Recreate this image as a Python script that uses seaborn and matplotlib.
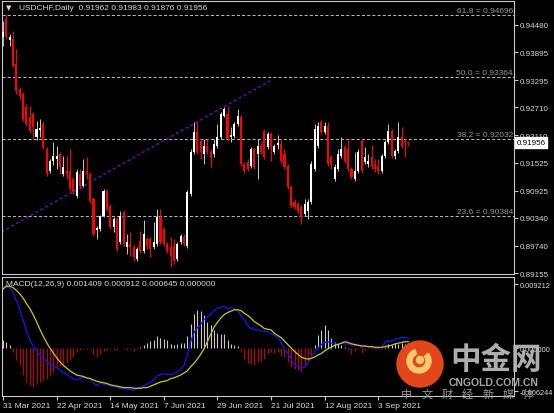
import numpy as np
import pandas as pd
import matplotlib
matplotlib.use('Agg')
import matplotlib.pyplot as plt
from matplotlib.patches import Circle, Wedge
import seaborn as sns

# ---- data ----
opens = [0.94222, 0.94609, 0.94158, 0.94179, 0.93642, 0.93106, 0.92998, 0.92719, 0.92505, 0.92569,
         0.92075, 0.92225, 0.92354, 0.91817, 0.91345, 0.91560, 0.91603, 0.91710, 0.91281, 0.91345,
         0.91345, 0.91173, 0.90808, 0.91281, 0.91023, 0.91345, 0.91281, 0.90744, 0.90078, 0.90100,
         0.90379, 0.90916, 0.90594, 0.90143, 0.90315, 0.89821, 0.90465, 0.89713, 0.89778, 0.89713,
         0.89456, 0.89842, 0.89628, 0.89885, 0.89885, 0.89713, 0.89778, 0.90358, 0.90100, 0.89778,
         0.89713, 0.89735, 0.89456, 0.89821, 0.89928, 0.89735, 0.90851, 0.91753, 0.92182, 0.91989,
         0.91710, 0.91882, 0.91753, 0.91710, 0.91882, 0.92075, 0.92526, 0.92569, 0.92075, 0.92097,
         0.92354, 0.92505, 0.91495, 0.91538, 0.91453, 0.91817, 0.91710, 0.91882, 0.92204, 0.91860,
         0.92140, 0.91753, 0.91903, 0.91925, 0.91710, 0.91453, 0.91002, 0.90680, 0.90637, 0.90572,
         0.90422, 0.90486, 0.90680, 0.91388, 0.91882, 0.92397, 0.92182, 0.92311, 0.91646, 0.91173,
         0.91388, 0.91667, 0.91860, 0.91817, 0.91388, 0.91173, 0.91345, 0.91989, 0.91538, 0.91495,
         0.91646, 0.91495, 0.91453, 0.91345, 0.91667, 0.91968, 0.92204, 0.91667, 0.91775, 0.92075,
         0.91989, 0.91962]
highs = [0.94566, 0.94716, 0.94287, 0.94351, 0.93964, 0.93149, 0.93041, 0.92784, 0.92741, 0.92612,
         0.92419, 0.92462, 0.92419, 0.91860, 0.91603, 0.91968, 0.91882, 0.91753, 0.91667, 0.91667,
         0.91817, 0.91216, 0.91388, 0.91388, 0.91603, 0.91646, 0.91324, 0.90787, 0.90164, 0.90400,
         0.90959, 0.90959, 0.90637, 0.90358, 0.90358, 0.90486, 0.90508, 0.89993, 0.90035, 0.89756,
         0.89713, 0.90057, 0.90293, 0.89928, 0.89928, 0.90250, 0.90529, 0.90529, 0.90143, 0.89821,
         0.89928, 0.89885, 0.89821, 0.89993, 0.89993, 0.90937, 0.91817, 0.92397, 0.92397, 0.92032,
         0.92032, 0.92032, 0.91817, 0.92032, 0.92354, 0.92612, 0.92719, 0.92741, 0.92290, 0.92397,
         0.92676, 0.92547, 0.91538, 0.91603, 0.91860, 0.91860, 0.92032, 0.91968, 0.92247, 0.92182,
         0.92182, 0.91925, 0.92118, 0.92032, 0.91817, 0.91495, 0.91045, 0.90744, 0.90680, 0.90615,
         0.90744, 0.90744, 0.91560, 0.92354, 0.92397, 0.92440, 0.92397, 0.92397, 0.91689, 0.91495,
         0.91817, 0.92075, 0.91903, 0.92032, 0.91431, 0.91753, 0.91817, 0.92032, 0.91860, 0.91710,
         0.91903, 0.91603, 0.91603, 0.91710, 0.92011, 0.92354, 0.92247, 0.91817, 0.92397, 0.92290,
         0.92032, 0.91983]
lows = [0.94029, 0.94179, 0.94029, 0.93578, 0.92998, 0.92891, 0.92419, 0.92311, 0.92161, 0.92032,
        0.92011, 0.92075, 0.91817, 0.91238, 0.91302, 0.91474, 0.91388, 0.91281, 0.91238, 0.91173,
        0.90916, 0.90851, 0.90765, 0.90959, 0.91002, 0.91173, 0.90658, 0.89950, 0.89885, 0.90057,
        0.90358, 0.90486, 0.90100, 0.90035, 0.89628, 0.89778, 0.89735, 0.89563, 0.89520, 0.89413,
        0.89413, 0.89585, 0.89585, 0.89670, 0.89499, 0.89670, 0.89735, 0.89778, 0.89735, 0.89585,
        0.89284, 0.89348, 0.89413, 0.89778, 0.89735, 0.89692, 0.90808, 0.91710, 0.91710, 0.91603,
        0.91495, 0.91710, 0.91431, 0.91646, 0.91839, 0.92032, 0.92505, 0.91989, 0.91968, 0.92054,
        0.92311, 0.91453, 0.91302, 0.91345, 0.91410, 0.91388, 0.91173, 0.91710, 0.91603, 0.91817,
        0.91560, 0.91710, 0.91817, 0.91517, 0.91388, 0.90959, 0.90551, 0.90529, 0.90443, 0.90207,
        0.90379, 0.90315, 0.90637, 0.91345, 0.91839, 0.92140, 0.92140, 0.91453, 0.91388, 0.91130,
        0.91345, 0.91624, 0.91517, 0.91345, 0.91173, 0.91130, 0.91302, 0.91302, 0.91495, 0.91431,
        0.91388, 0.91324, 0.91281, 0.91302, 0.91624, 0.91925, 0.91624, 0.91603, 0.91732, 0.91839,
        0.91646, 0.91876]
closes = [0.94329, 0.94222, 0.94222, 0.93600, 0.93063, 0.92955, 0.92462, 0.92354, 0.92204, 0.92290,
          0.92247, 0.92268, 0.91860, 0.91281, 0.91560, 0.91667, 0.91667, 0.91431, 0.91431, 0.91281,
          0.90959, 0.90894, 0.91324, 0.91023, 0.91345, 0.91281, 0.90701, 0.89993, 0.90122, 0.90379,
          0.90916, 0.90529, 0.90143, 0.90315, 0.89670, 0.90379, 0.89778, 0.89821, 0.89713, 0.89499,
          0.89670, 0.89628, 0.89993, 0.89735, 0.89670, 0.89821, 0.90358, 0.89821, 0.89778, 0.89628,
          0.89520, 0.89413, 0.89778, 0.89950, 0.89778, 0.90894, 0.91753, 0.92182, 0.91753, 0.91753,
          0.91882, 0.91753, 0.91646, 0.91925, 0.92075, 0.92569, 0.92676, 0.92032, 0.92118, 0.92354,
          0.92526, 0.91495, 0.91345, 0.91388, 0.91817, 0.91431, 0.91882, 0.91753, 0.91646, 0.92140,
          0.91860, 0.91882, 0.91946, 0.91560, 0.91431, 0.91002, 0.90594, 0.90572, 0.90486, 0.90358,
          0.90637, 0.90680, 0.91495, 0.92247, 0.92311, 0.92182, 0.92311, 0.91495, 0.91495, 0.91431,
          0.91710, 0.91817, 0.91560, 0.91388, 0.91216, 0.91345, 0.91753, 0.91345, 0.91646, 0.91560,
          0.91453, 0.91388, 0.91345, 0.91667, 0.91968, 0.92204, 0.91667, 0.91775, 0.92075, 0.91882,
          0.91968, 0.91956]

macd_hist = [0.00115, 0.00086, 0.0004, -0.00058, -0.0017, -0.0025, -0.0039, -0.0049, -0.0053, -0.0056,
             -0.0052, -0.0049, -0.0046, -0.0044, -0.0039, -0.0035, -0.0030, -0.0026, -0.0025, -0.0022,
             -0.0017, -0.0013, -0.0006, -0.0003, -0.0002, -0.0001, -0.0001, -0.0008, -0.0013, -0.0008,
             -0.0004, -0.0003, -0.0002, -0.0003, -0.0003, -0.00005, -0.0002, -0.0003, -0.0002, -0.0004,
             -0.0002, 0.0001, 0.0004, 0.0007, 0.0010, 0.0012, 0.0017, 0.0015, 0.0013, 0.0011,
             0.0006, 0.0004, 0.0006, 0.0007, 0.0007, 0.0018, 0.0035, 0.0049, 0.0055, 0.0054,
             0.0048, 0.0038, 0.0033, 0.0026, 0.0021, 0.0020, 0.0020, 0.0012, 0.0006, 0.0004,
             0.0003, -0.0006, -0.0016, -0.0022, -0.0023, -0.0025, -0.0020, -0.0018, -0.0016, -0.0009,
             -0.0006, -0.0007, -0.0006, -0.0011, -0.0013, -0.0020, -0.0027, -0.0030, -0.0031, -0.0035,
             -0.0027, -0.0020, -0.0011, 0.0004, 0.0019, 0.0026, 0.0033, 0.0026, 0.0015, 0.0009,
             0.0006, 0.0004, 0.0002, -0.0003, -0.0008, -0.0004, -0.0002, -0.0007, -0.0003, -0.0002,
             -0.0001, -0.0001, -0.0002, -0.0001, 0.0002, 0.0006, 0.0004, 0.0007, 0.0006, 0.0007,
             0.0006, 0.00065]
macd_main = [0.0088, 0.0088, 0.0087, 0.0080, 0.0068, 0.0056, 0.0040, 0.0025, 0.0011, 0.0003,
             -0.0004, -0.0010, -0.0015, -0.0019, -0.0023, -0.0026, -0.0028, -0.0032, -0.0035, -0.0038,
             -0.0042, -0.0045, -0.0045, -0.0044, -0.0042, -0.0043, -0.0044, -0.0050, -0.0054, -0.0051,
             -0.0052, -0.0053, -0.0054, -0.0055, -0.0056, -0.0058, -0.0058, -0.0059, -0.0060, -0.0061,
             -0.0059, -0.0056, -0.0054, -0.0052, -0.0049, -0.0046, -0.0040, -0.0038, -0.0037, -0.0038,
             -0.0038, -0.0037, -0.0034, -0.0031, -0.0025, -0.0010, 0.0009, 0.0022, 0.0029, 0.0034,
             0.0041, 0.0045, 0.0049, 0.0054, 0.0057, 0.0059, 0.0060, 0.0056, 0.0058, 0.0057,
             0.0054, 0.0047, 0.0041, 0.0033, 0.0028, 0.0027, 0.0026, 0.0025, 0.0024, 0.0023,
             0.0021, 0.0018, 0.0015, 0.0008, -0.0002, -0.0008, -0.0016, -0.0024, -0.0027, -0.0029,
             -0.0027, -0.0022, -0.0014, -0.0006, 0.0000, 0.0005, 0.0008, 0.0009, 0.0007, 0.0006,
             0.0006, 0.0007, 0.0006, 0.0006, 0.0004, 0.0004, 0.0004, 0.0001, 0.0002, 0.0002,
             0.0001, 0.0000, -0.0001, 0.0001, 0.0008, 0.0011, 0.0009, 0.0013, 0.0014, 0.0015,
             0.0015, 0.00141]
macd_signal = [0.0085, 0.0089, 0.0089, 0.0087, 0.0083, 0.0078, 0.0072, 0.0064, 0.0057, 0.0048,
               0.0038, 0.0027, 0.0017, 0.0008, 0.0000, -0.0007, -0.0014, -0.0020, -0.0025, -0.0029,
               -0.0033, -0.0036, -0.0039, -0.0040, -0.0041, -0.0043, -0.0044, -0.0046, -0.0048, -0.0049,
               -0.0050, -0.0051, -0.0053, -0.0054, -0.0055, -0.0056, -0.0057, -0.0057, -0.0057, -0.0058,
               -0.0058, -0.0058, -0.0057, -0.0057, -0.0055, -0.0053, -0.0051, -0.0049, -0.0048, -0.0047,
               -0.0044, -0.0043, -0.0041, -0.0039, -0.0036, -0.0033, -0.0027, -0.0022, -0.0016, -0.0009,
               -0.0001, 0.0009, 0.0020, 0.0030, 0.0037, 0.0043, 0.0048, 0.0051, 0.0053, 0.0055,
               0.0055, 0.0054, 0.0050, 0.0047, 0.0043, 0.0038, 0.0035, 0.0032, 0.0028, 0.0027,
               0.0026, 0.0021, 0.0018, 0.0015, 0.0010, 0.0005, 0.0000, -0.0005, -0.0009, -0.0013,
               -0.0015, -0.0016, -0.0015, -0.0013, -0.0010, -0.0008, -0.0004, -0.0001, 0.0001, 0.0004,
               0.0005, 0.0007, 0.0009, 0.0008, 0.0006, 0.0005, 0.0004, 0.0003, 0.0003, 0.0002,
               0.0002, 0.0001, 0.0001, 0.0001, 0.0002, 0.0003, 0.0004, 0.0006, 0.0007, 0.0008,
               0.0009, 0.00091]

date_bars = [0, 16, 32, 48, 64, 80, 96, 112]
date_labels = ['31 Mar 2021', '22 Apr 2021', '14 May 2021', '7 Jun 2021',
               '29 Jun 2021', '21 Jul 2021', '12 Aug 2021', '3 Sep 2021']
price_ticks = [0.94480, 0.93895, 0.93295, 0.92710, 0.92110,
               0.91525, 0.90925, 0.90340, 0.89740, 0.89155]
fib_levels = ['61.8', '50.0', '38.2', '23.6']
fib_prices = [0.94696, 0.93364, 0.92032, 0.90384]
trend_bars = [-0.4, 79.7]
trend_prices = [0.9004, 0.9328]
last_price = 0.91956
macd_ticks = [0.009212, 0.0, -0.006244]
macd_tick_labels = ['0.009212', '0.000000', '-0.006244']

# ---- style ----
sns.set_theme(style='dark', rc={
    'figure.facecolor': 'black', 'axes.facecolor': 'black',
    'axes.edgecolor': '#c8c8c8', 'axes.linewidth': 0.8,
    'xtick.color': '#c8c8c8', 'ytick.color': '#c8c8c8',
    'text.color': '#d0d0d0', 'axes.grid': False})
plt.rcParams['font.family'] = ['Liberation Sans', 'DejaVu Sans']

W, H = 554, 414
fig = plt.figure(figsize=(W / 100, H / 100), dpi=100, facecolor='black')
ax = fig.add_axes([2 / W, 1 - 275 / H, 512 / W, 273 / H])
ax2 = fig.add_axes([2 / W, 1 - 397 / H, 512 / W, 119 / H])

df = pd.DataFrame({'open': opens, 'high': highs, 'low': lows, 'close': closes})
df['bar'] = np.arange(len(df))
up = df['close'] >= df['open']

# candles
ax.vlines(df.loc[up, 'bar'], df.loc[up, 'low'], df.loc[up, 'high'], color='#bdbdbd', lw=0.75, zorder=3)
ax.vlines(df.loc[~up, 'bar'], df.loc[~up, 'low'], df.loc[~up, 'high'], color='#ff0000', lw=0.75, zorder=3)
body = np.maximum((df['close'] - df['open']).abs(), 0.00016)
bottom = np.minimum(df['open'], df['close'])
ax.bar(df.loc[up, 'bar'], body[up], bottom=bottom[up], width=0.62, color='white', lw=0, zorder=4)
ax.bar(df.loc[~up, 'bar'], body[~up], bottom=bottom[~up], width=0.62, color='#ff0000', lw=0, zorder=4)

# fibonacci levels
for lvl, p in zip(fib_levels, fib_prices):
    ax.axhline(p, color='#b4b4b4', ls=(0, (3, 2)), lw=0.75, zorder=2)
    ax.text(152.2, p + 0.0002, f'{lvl} = {p:.5f}', ha='right', va='bottom',
            fontsize=6, color='#9a9a9a', zorder=5)

# trend line
sns.lineplot(x=trend_bars, y=trend_prices, ax=ax, color='#7a00c8', lw=1.0,
             linestyle=(0, (2, 2)), zorder=2)

ax.set_xlim(-0.3, 152.5)
ax.set_ylim(0.89134, 0.94995)
ax.set_xticks([])
ax.yaxis.tick_right()
ax.set_yticks(price_ticks)
ax.set_yticklabels([f'{p:.5f}' for p in price_ticks], fontsize=5.8, color='#d8d8d8')
ax.tick_params(axis='y', right=True, length=3, width=0.8, pad=1.5, direction='out')
ax.set_xlabel('')
ax.set_ylabel('')

ax.text(1.005, last_price, f'{last_price:.5f}', transform=ax.get_yaxis_transform(),
        ha='left', va='center', fontsize=5.8, color='black', clip_on=False,
        bbox=dict(boxstyle='square,pad=0.2', fc='white', ec='white'))

# MACD
bars = df['bar'].to_numpy()
hist = np.array(macd_hist)
ax2.vlines(bars, 0, hist, colors=np.where(hist >= 0, '#c8c8c8', '#c00000'), lw=0.8, zorder=2)
sns.lineplot(x=bars, y=macd_main, ax=ax2, color='#1414ff', lw=0.9, zorder=3)
sns.lineplot(x=bars, y=macd_signal, ax=ax2, color='#d2c800', lw=0.9, zorder=3)
ax2.set_xlim(-0.3, 152.5)
ax2.set_ylim(-0.006912, 0.010224)
ax2.yaxis.tick_right()
ax2.set_yticks(macd_ticks)
ax2.set_yticklabels(macd_tick_labels, fontsize=5.3, color='#d8d8d8')
ax2.tick_params(axis='y', right=True, length=3, width=0.8, pad=1, direction='out')
ax2.set_xticks(date_bars)
ax2.set_xticklabels(date_labels, ha='left', fontsize=6, color='#d8d8d8')
ax2.tick_params(axis='x', bottom=True, length=3, width=0.8, pad=1, direction='out')
ax2.set_xlabel('')
ax2.set_ylabel('')

# header texts
fig.text(6 / W, 1 - 8 / H, '▼', fontsize=5, family='DejaVu Sans', va='center', color='#d8d8d8')
fig.text(19 / W, 1 - 8 / H, 'USDCHF,Daily  0.91962 0.91983 0.91876 0.91956',
         fontsize=6, va='center', color='#d8d8d8')
fig.text(6 / W, 1 - 285 / H, 'MACD(12,26,9) 0.001409 0.000912 0.000645 0.000000',
         fontsize=6, va='center', color='#d8d8d8')

# watermark
ov = fig.add_axes([0, 0, 1, 1], facecolor='none')
ov.set_xlim(0, W)
ov.set_ylim(H, 0)
ov.axis('off')
ov.add_patch(Circle((420, 365), 23, color='#e4461c', zorder=5))
ov.add_patch(Wedge((419, 362), 12, -40, 250, width=5, color='#f8c870', zorder=6))
ov.add_patch(Circle((420, 361), 3.5, color='#f8c870', zorder=6))
ov.text(496, 360, '中金网', fontsize=22, fontweight='bold', color='#b8b8b8', alpha=0.95,
        ha='center', va='center', family='Noto Sans CJK SC', zorder=6)
ov.text(494, 383, 'CNGOLD.COM.CN', fontsize=7.5, fontweight='bold', color='#a8a8a8',
        ha='center', va='center', zorder=6)
for k, ch in enumerate('中文财经新媒体'):
    ov.text(407 + 20.2 * k, 395, ch, fontsize=8, color='#9a9a9a', ha='center', va='center',
            family='Noto Sans CJK SC', zorder=6)

fig.savefig('out.png', dpi=100, facecolor='black')
